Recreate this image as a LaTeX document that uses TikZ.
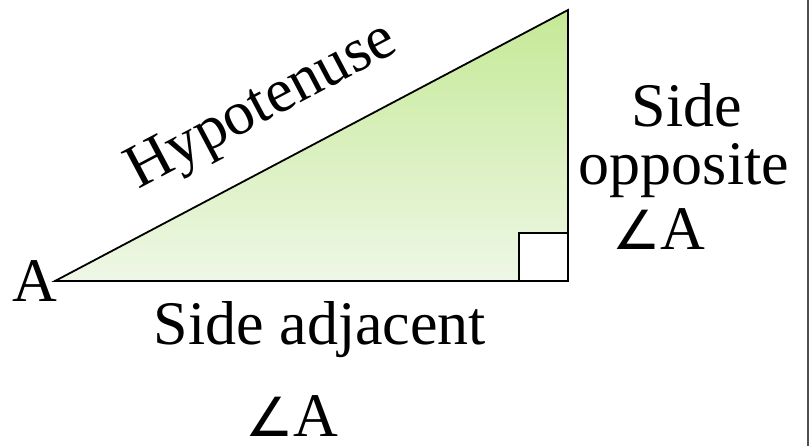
\documentclass[tikz,border=0pt]{standalone}
\usepackage{fontspec}
\setmainfont{Liberation Serif}
\newfontfamily\angfont{DejaVu Sans}
\begin{document}
\begin{tikzpicture}[x=1pt,y=-1pt,
  lbl/.style={font=\fontsize{62}{68}\selectfont, inner sep=0pt, anchor=base},
  edge/.style={line width=1.8pt, black}]
\useasboundingbox (0,0) rectangle (809,446);
\coordinate (A) at (55,281);
\coordinate (C) at (568,281);
\coordinate (B) at (568,10);
\shade[top color={rgb,255:red,197;green,233;blue,150}, bottom color={rgb,255:red,238;green,247;blue,230}] (A) -- (B) -- (C) -- cycle;
\draw[edge, line join=miter] (A) -- (B) -- (C) -- cycle;
\draw[edge, fill=white] (519,233) rectangle (C);
\draw[line width=2pt, color={rgb,255:red,80;green,80;blue,80}] (808,0) -- (808,446);
\node[lbl] (hyp) at (269,120) [rotate=27.85] {Hypotenuse};
\node[lbl] (side) at (687,127) {Side};
\node[lbl] (opp) at (684,185) {opposite};
\node[lbl] (angA) at (659,250) {{\angfont\fontsize{54}{60}\selectfont ∠}A};
\node[lbl] (vA) at (35,302) {A};
\node[lbl] (adj) at (320,345) {Side adjacent};
\node[lbl] (angB) at (292,436) {{\angfont\fontsize{54}{60}\selectfont ∠}A};
\end{tikzpicture}
\end{document}
